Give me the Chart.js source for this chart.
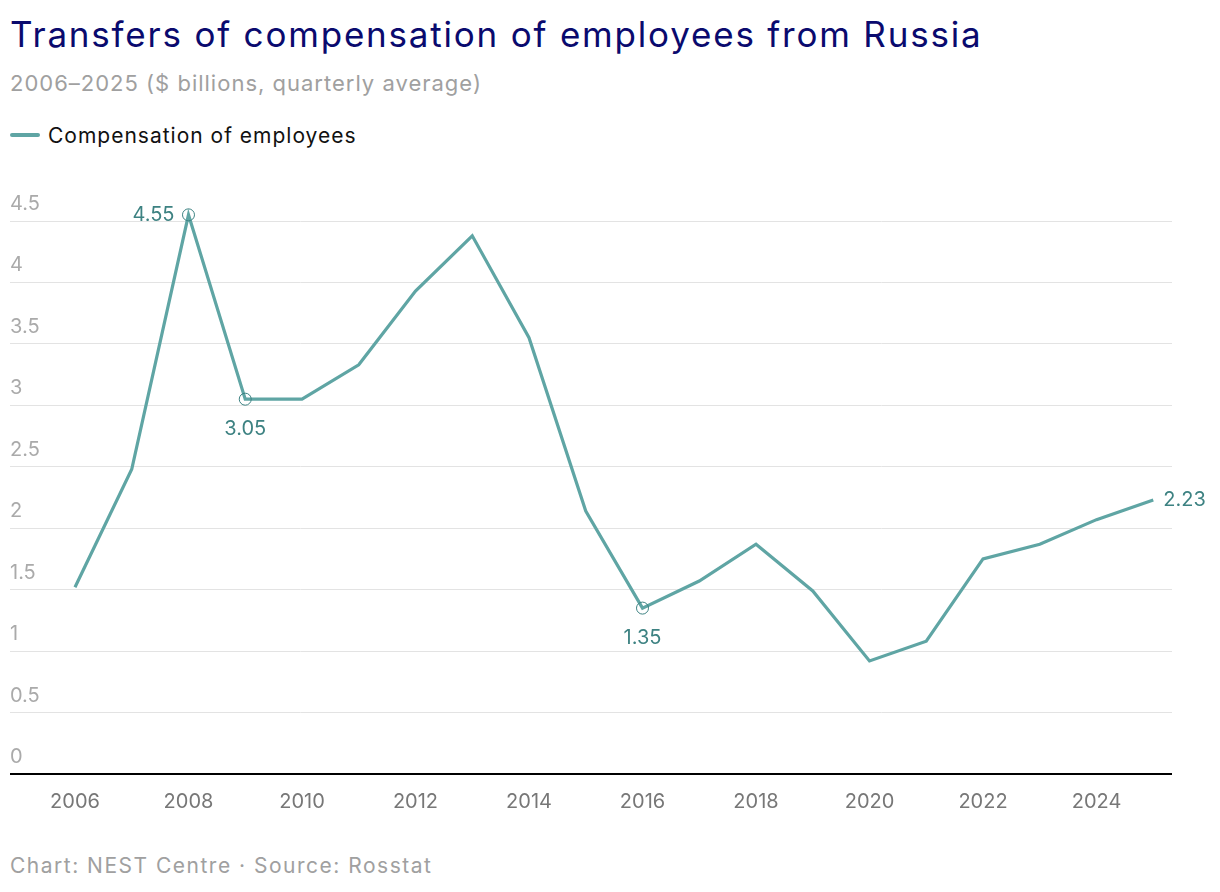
<!DOCTYPE html>
<html>
<head>
<meta charset="utf-8">
<script src="https://cdn.jsdelivr.net/npm/chart.js@4.4.0/dist/chart.umd.min.js"></script>
<style>
  body { margin: 0; background: #fff; font-family: Inter, "Noto Sans", sans-serif; }
  #wrap { position: relative; width: 1220px; height: 892px; overflow: hidden; }
  #title { position: absolute; left: 10px; top: 13px; font-size: 35px; letter-spacing: 1.8px; color: #0a0a6e; white-space: nowrap; }
  #sub { position: absolute; left: 10px; top: 70px; font-size: 22px; letter-spacing: 1px; color: #a0a0a0; white-space: nowrap; }
  #legend { position: absolute; left: 10px; top: 123px; font-size: 21px; letter-spacing: 1px; color: #111; white-space: nowrap; }
  #legend span.sw { display: inline-block; width: 30px; height: 4px; border-radius: 2px; background: #5fa5a4; vertical-align: middle; margin-right: 8px; position: relative; top: -2px; }
  #foot { position: absolute; left: 10px; top: 853px; font-size: 21px; letter-spacing: 1.5px; color: #a0a0a0; white-space: nowrap; }
  #box { position: absolute; left: 0; top: 180px; width: 1220px; height: 650px; }
</style>
</head>
<body>
<div id="wrap">
  <div id="title">Transfers of compensation of employees from Russia</div>
  <div id="sub">2006–2025 ($ billions, quarterly average)</div>
  <div id="legend"><span class="sw"></span>Compensation of employees</div>
  <div id="box"><canvas id="myChart"></canvas></div>
  <div id="foot">Chart: NEST Centre · Source: Rosstat</div>
</div>
<script>
// dati
const years = [2006, 2007, 2008, 2009, 2010, 2011, 2012, 2013, 2014, 2015, 2016, 2017, 2018, 2019, 2020, 2021, 2022, 2023, 2024, 2025];
const compensation = [1.52, 2.48, 4.55, 3.05, 3.05, 3.33, 3.93, 4.38, 3.55, 2.14, 1.35, 1.57, 1.87, 1.49, 0.92, 1.08, 1.75, 1.87, 2.07, 2.23];
const xTicks = [2006, 2008, 2010, 2012, 2014, 2016, 2018, 2020, 2022, 2024];

// punti con etichetta: indice -> posizione
const labelled = { 2: 'left', 3: 'below', 10: 'below', 19: 'right' };
const ringed = [2, 3, 10];

const lineColor = '#5fa5a4';
const labelColor = '#3d8282';

const pointLabels = {
  id: 'pointLabels',
  afterDatasetsDraw(chart) {
    const ctx = chart.ctx;
    const meta = chart.getDatasetMeta(0);
    ctx.save();
    ctx.font = '20px Inter, "Noto Sans", sans-serif';
    ctx.fillStyle = labelColor;
    ctx.textBaseline = 'middle';
    Object.keys(labelled).forEach(k => {
      const i = Number(k);
      const pt = meta.data[i];
      const txt = compensation[i].toFixed(2);
      const pos = labelled[k];
      if (pos === 'left') { ctx.textAlign = 'right'; ctx.fillText(txt, pt.x - 14, pt.y); }
      if (pos === 'right') { ctx.textAlign = 'left'; ctx.fillText(txt, pt.x + 10, pt.y); }
      if (pos === 'below') { ctx.textAlign = 'center'; ctx.fillText(txt, pt.x, pt.y + 30); }
    });
    ctx.restore();
  }
};

const data = {
  labels: years,
  datasets: [{
    label: 'Compensation of employees',
    data: years.map((y, i) => ({ x: y, y: compensation[i] })),
    borderColor: lineColor,
    borderWidth: 3.2,
    fill: false,
    tension: 0,
    pointRadius: c => ringed.includes(c.dataIndex) ? 6 : 0,
    pointBackgroundColor: 'rgba(0,0,0,0)',
    pointBorderColor: labelColor,
    pointBorderWidth: 1,
    clip: false
  }]
};

const config = {
  type: 'line',
  data: data,
  options: {
    responsive: true,
    maintainAspectRatio: false,
    animation: false,
    layout: { padding: { left: 10, right: 48, top: 41, bottom: 0 } },
    plugins: {
      legend: { display: false },
      tooltip: { enabled: false }
    },
    scales: {
      x: {
        type: 'linear',
        min: 2004.855,
        max: 2025.33,
        afterBuildTicks: axis => { axis.ticks = xTicks.map(v => ({ value: v })); },
        grid: { display: false, drawTicks: false },
        border: { display: false },
        ticks: {
          padding: 16,
          color: '#777',
          font: { size: 20, family: 'Inter, "Noto Sans", sans-serif' },
          callback: v => String(v),
          maxRotation: 0
        }
      },
      y: {
        min: 0,
        max: 4.5,
        grid: {
          drawTicks: false,
          color: c => c.tick.value === 0 ? '#000' : '#e3e3e3',
          lineWidth: c => c.tick.value === 0 ? 2 : 1
        },
        border: { display: false },
        ticks: {
          stepSize: 0.5,
          mirror: true,
          padding: 0,
          labelOffset: -17,
          color: '#aaa',
          font: { size: 20, family: 'Inter, "Noto Sans", sans-serif' },
          callback: v => String(v)
        }
      }
    }
  },
  plugins: [pointLabels]
};

const myChart = new Chart(document.getElementById('myChart'), config);
</script>
</body>
</html>
